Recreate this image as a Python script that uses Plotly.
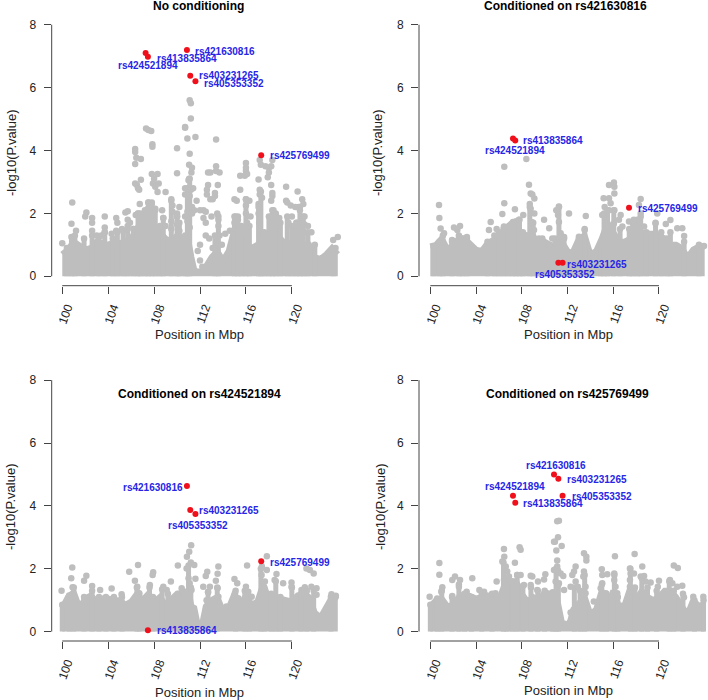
import plotly.graph_objects as go

BASE_POS = [100, 100.5, 101, 101.5, 102, 102.5, 103, 103.5, 104, 104.5, 105, 105.5, 106, 106.5, 107, 107.5,
            108, 108.5, 109, 109.5, 110, 110.5, 111, 111.25, 111.5, 111.75, 112, 112.25, 112.5, 113, 113.5,
            114, 114.5, 115, 115.5, 116, 116.5, 117, 117.5, 118, 118.5, 119, 119.5, 120, 120.5, 121, 121.5,
            122, 122.5, 123, 123.5, 124]

BASE_1 = [.7, .85, 1.1, .95, .85, .9, 1.1, 1.05, 1.0, 1.1, 1.05, 1.1, 1.2, 1.5, 1.9, 2.2,
          1.6, 1.4, 1.2, 1.1, 1.3, 1.2, 1.1, .6, .2, .15, .15, .15, .3, .6, .8,
          .5, .8, 1.5, 1.5, 1.0, .9, 1.0, 1.0, 1.3, 1.4, 1.2, 1.0, 1.1, .9, 1.0, 1.0,
          .6, .55, .7, .9, .7]
BASE_2 = [.95, 1.0, 1.2, .85, 1.0, 1.2, 1.2, 1.0, .85, .8, 1.05, 1.15, 1.25, 1.5, 1.65, 1.6,
          1.35, 1.3, 1.3, .9, 1.1, 1.0, .95, .9, 1.1, .9, .8, .75, .8, 1.2, 1.3,
          .7, .8, 1.2, 1.7, 1.4, 1.1, 1.1, 1.2, 1.4, 1.4, 1.35, 1.35, 1.3, 1.2, 1.0, 1.0,
          .9, .6, .85, .95, .95]
BASE_3 = [.75, 1.1, 1.25, .75, 1.05, 1.15, .95, 1.05, 1.05, 1.0, 1.0, .85, .95, 1.2, 1.0, 1.2,
          .95, 1.1, .85, 1.05, 1.2, 1.2, 1.3, .8, .75, .3, .15, .35, .8, 1.0, 1.1,
          .65, .75, 1.2, .85, 1.15, .85, .95, 1.5, 1.05, 1.1, 1.05, 1.0, .95, 1.15, 1.2, 1.1,
          .6, .45, .8, 1.1, 1.0]
BASE_4 = [.8, 1.0, 1.05, .8, .85, 1.1, 1.2, 1.1, 1.05, 1.1, 1.15, 1.1, 1.0, 1.5, 1.55, 1.6,
          1.2, .95, 1.1, 1.0, 1.25, 1.2, 1.2, .7, .3, .25, .2, .35, .7, .9, 1.1,
          .55, .7, 1.3, .8, 1.3, .8, .85, 1.4, 1.0, 1.3, 1.1, 1.0, 1.1, 1.3, 1.3, 1.1,
          .8, .55, 1.0, .8, .9]

STREAK_X_1 = [100.4, 100.8, 101.1, 101.9, 102.6, 103.2, 103.7, 104.4, 104.8, 105.3, 105.7, 106.2, 106.6, 106.8, 107.2, 107.5, 107.8, 108.1, 108.5, 108.8, 109.5, 110.0, 110.2, 110.7, 110.9, 111.1,
              113.3, 113.6, 115, 115.3, 115.6, 116, 116.3, 117.1, 117.3, 117.6, 118.0, 118.3, 118.6, 119, 119.6, 120, 120.4, 120.7, 121, 121.4, 122, 123.6]
STREAK_Y_1 = [.9, 1.25, 1.3, 1.2, 1.3, 1.25, 1.4, 1.2, 1.4, 1.45, 1.6, 1.5, 2.0, 1.7, 2.1, 2.35, 2.35, 2.1, 1.6, 1.85, 2.4, 1.9, 1.7, 1.3, 2.8, 3.1,
              1.3, 1.9, 1.9, 1.9, 1.6, 2.45, 1.6, 2.3, 2.7, 1.4, 1.9, 2.1, 1.9, 1.7, 1.9, 1.6, 1.7, 2.2, 1.9, 1.4, 1.0, .85]
STREAK_X_2 = [100.3, 100.8, 101.1, 101.9, 102.5, 102.8, 103.2, 105, 105.6, 106.0, 106.4, 106.8, 107.2, 107.5, 107.8, 108.1, 108.7, 109, 109.5, 110.4, 110.9, 111.25, 111.7,
              113, 113.5, 114.9, 115.2, 115.5, 116.05, 116.6, 117.4, 117.7, 118.1, 118.4, 118.9, 119.7, 120.2, 120.7, 121.0, 122.2, 123.5]
STREAK_Y_2 = [.95, 1.1, 1.3, 1.1, 1.3, 1.2, 1.2, 1.1, 1.3, 1.4, 1.5, 1.55, 1.7, 1.75, 1.8, 1.4, 2.2, 1.7, 1.2, 1.0, 1.2, 2.2, 1.2,
              1.2, 1.5, 1.0, 2.0, 2.1, 2.1, 1.5, 1.5, 1.7, 1.8, 1.9, 1.4, 1.7, 1.4, 1.2, 1.4, 1.1, .95]
STREAK_X_3 = [100, 100.6, 101, 101.9, 102.6, 103.2, 103.8, 104.5, 105.2, 106.5, 106.7, 107.6, 107.9, 108.7, 109.2, 110.1, 110.5, 111, 111.2,
              112.7, 113.5, 115.1, 115.9, 116.3, 117.3, 117.6, 118.2, 118.6, 119, 120, 120.8, 121.3, 121.9, 123.4]
STREAK_Y_3 = [.85, 1.15, 1.4, 1.1, 1.3, 1.1, 1.1, 1.1, 1.1, 1.4, 1.2, 1.4, 1.1, 1.35, 1.2, 1.2, 1.3, 2.1, 1.4,
              1.25, 1.4, 1.3, 1.3, 1.1, 2.0, 1.4, 1.2, 1.6, 1.1, 1.4, 1.2, 1.3, 1.3, 1.1]
STREAK_X_4 = [100, 100.6, 101, 101.9, 102.5, 103, 103.6, 104.5, 105.4, 106.4, 106.7, 107.2, 107.6, 108.1, 108.8, 109.4, 110, 110.7, 111, 111.2,
              112.6, 113.1, 113.5, 115, 115.4, 116.1, 116.4, 117.5, 117.9, 118.5, 119, 119.8, 120.9, 121.3, 122.1, 123.1, 123.9]
STREAK_Y_4 = [.85, 1.05, 1.3, 1.1, 1.5, 1.2, 1.1, 1.2, 1.2, 2.2, 1.7, 1.6, 1.8, 1.45, 1.4, 1.3, 1.3, 1.25, 2.0, 1.5,
              1.4, 1.3, 1.8, 1.5, 1.2, 1.8, 1.1, 2.0, 1.4, 1.7, 1.4, 1.3, 1.6, 1.3, 1.2, 1.0, 1.0]

PEAK_X_1 = [100, 100.87, 100.8, 101.2, 102, 102.1, 102.6, 102.6, 102.6, 103, 103.4, 103.7, 103.7, 103.7, 104.3, 104.7, 104.8, 104.7, 105.2, 105.5, 105.7, 105.7, 105.9, 106.2,
            106.35, 106.35, 106.35, 106.45, 106.85, 106.35, 106.5, 106.6, 106.7, 106.85, 106.75, 106.4, 106.6, 106.8, 107.3, 107.5, 107.75, 107.85, 107.85,
            107.8, 108.3, 108, 107.9, 108.1, 108.4, 108.3, 109, 107.5, 107.8, 108.1, 108.7, 108.8, 109.0, 109.5, 109.6, 109.6, 109.5, 109.5, 110, 110.2, 110, 110, 110.2, 110, 110,
            110.7, 110.7, 110.9, 111.1, 111.2, 111.2, 111.6, 111.1, 111.05, 111.3, 111.25, 111.05, 111.0, 110.7, 110.7, 111.2, 111.4, 111.1, 111, 111.3, 111.7, 110.9, 111.3, 110.7, 110.9, 111.1,
            111.5, 112, 112.3, 112.3, 112.5, 112.5, 111.8, 112, 112.0, 112.2, 112.7, 112.9, 112.7, 112.6, 112.6, 112.5, 112.9, 113.1, 113, 113.3, 113.3,
            113.4, 113.4, 113.4, 113.7, 113.55, 113.5, 113.6, 113.6, 113.7, 113.9, 112.8, 113.1, 114.2, 114.6, 115, 115.2, 115.5, 115.5, 115.1, 115.3, 115,
            116, 116, 116, 115.9, 116.1, 116, 116, 116.3, 116, 116.4, 116.1, 116, 117.1, 117.2, 117.3, 117.2, 117.2, 117.4, 117.1, 117.1, 117.15,
            117.7, 118, 118, 117.9, 118.3, 118.2, 118.2, 118.3, 118.3, 118.2, 118.4, 118.6, 118.9, 118.2, 118.5, 119.5, 119.5, 119.6, 119.9, 120, 119.7,
            120.5, 120.3, 120.6, 120.7, 120.9, 121, 120.4, 120.7, 121.1, 121.1, 121.4, 121.7, 121.1, 123.6, 124, 123.8]
PEAK_Y_1 = [1.05, 2.35, 1.67, 1.45, 1.9, 2.03, 1.85, 1.7, 1.45, 1.3, 1.3, 1.9, 1.55, 1.4, 1.35, 1.85, 1.7, 1.45, 1.5, 2.03, 2.07, 1.8, 1.7, 1.5,
            4.05, 3.95, 3.57, 3.77, 3.73, 2.95, 2.9, 2.8, 2.75, 3.07, 2.3, 1.95, 2.0, 2.0, 4.7, 4.65, 4.62, 4.2, 4.12,
            3.25, 3.25, 3.1, 2.95, 2.85, 2.95, 2.68, 2.68, 2.35, 2.3, 2.15, 2.1, 1.85, 1.6, 2.45, 2.25, 2.05, 1.75, 1.5, 2.0, 2.2, 1.9, 1.65, 1.45, 4.07, 3.28,
            4.75, 4.72, 4.38, 5.6, 5.5, 5.02, 4.43, 3.9, 3.55, 3.45, 3.3, 3.1, 3.05, 2.8, 2.6, 2.75, 2.8, 2.55, 2.35, 2.2, 2.4, 2.05, 2.0, 1.9, 1.75, 1.55,
            2.1, 2.1, 2.1, 1.85, 1.7, 1.3, .8, 1.0, .5, .3, 3.3, 3.3, 2.9, 2.75, 2.6, 2.05, 2.45, 2.45, 1.9, 2.65, 2.55,
            4.35, 3.5, 3.35, 3.3, 2.9, 2.0, 1.8, 1.6, 1.3, 1.0, 1.2, .9, 1.35, 1.45, 2.45, 2.4, 2.75, 3.2, 1.9, 1.8, 1.7,
            3.6, 3.45, 3.35, 3.2, 3.25, 2.45, 2.25, 2.4, 2.0, 1.9, 1.7, 1.4, 3.08, 3.7, 3.55, 2.75, 2.6, 2.5, 2.2, 2.0, 1.7,
            3.5, 3.45, 3.3, 3.15, 3.7, 3.5, 2.9, 2.55, 2.65, 2.4, 2.1, 2.0, 1.85, 1.9, 1.7, 2.85, 2.4, 2.35, 2.25, 1.9, 1.7,
            2.7, 2.2, 2.2, 2.1, 2.45, 2.3, 1.7, 1.5, 1.9, 1.65, 1.6, 1.4, 1.4, 1.15, 1.25, .9]

PEAK_X_2 = [100.76, 100.79, 100.9, 101.2, 101.9, 102.07, 102.6, 102.36, 102.7, 103.2, 105.28, 105.13, 105.8, 106.3, 106.47, 106.47, 106.44, 106.9, 107.4, 107.23, 107.75, 108.13, 108.4, 108.63, 108.78, 108.92, 109.1, 108.7, 108.78, 109.1, 108.86, 109.07, 109.95, 110.4, 109.8, 110.67,
            111.02, 111.25, 111.17, 111.25, 112.13, 111.4, 111.7, 113.6, 113.5, 113.0, 113.44, 115.16, 115.63, 115.63, 116.06, 116.1, 116.1, 115.77, 115.25, 115.04, 116.1, 115.63, 115.3, 116.65, 116.5, 116.8, 116.06,
            118.4, 118.25, 118.4, 117.38, 117.8, 118.7, 119.85, 119.7, 121, 120.6, 121.6, 122.04, 122.2, 123.5, 123.94]
PEAK_Y_2 = [2.27, 1.85, 1.52, 1.37, 1.15, 1.55, 1.6, 1.47, 1.2, 1.25, 1.73, 1.47, 1.5, 1.98, 2.32, 3.48, 1.58, 1.58, 2.13, 1.73, 1.8, 1.95, 3.73, 2.91, 2.63, 2.6, 2.47, 2.3, 2.15, 2.0, 1.73, 1.47, 1.8, 1.53, 1.2, 1.2,
            2.1, 2.22, 1.95, 1.73, 2.0, 1.37, 1.25, 1.92, 1.47, 1.26, 1.15, 2.48, 2.48, 2.9, 2.98, 2.85, 2.63, 2.32, 2.2, 1.95, 2.1, 2.1, 1.68, 1.95, 1.8, 1.58, 1.68,
            2.46, 2.27, 2.0, 1.74, 1.8, 1.58, 2.0, 1.68, 1.79, 1.66, 1.53, 1.53, 1.28, 1.0, .96]

PEAK_X_3 = [99.94, 100.87, 100.78, 100.9, 101.9, 102.1, 102.6, 103.3, 104.3, 105.17, 105.83, 106.6, 106.33, 106.53, 106.7, 107.92, 107.87, 107.63, 108.8, 109.46, 109.1, 110.07, 110.4,
            111.23, 111.06, 110.86, 111.2, 111.5, 110.83, 111, 111.1, 111.6, 111.26, 112.63, 112.5, 112.28, 112.86, 112.7, 113.6, 113.53, 113.38, 113.53, 113.6, 112.57, 114.3,
            115, 115.24, 115.04, 115.33, 116.1, 116, 116.2, 116.5, 117.39, 117.36, 117.65, 117.82, 117.82, 118.66, 118.5, 119.24, 119.97, 119.97, 120.84, 121.27, 121.57, 121.9, 121.13, 121.7, 122.15, 122.15, 123.45, 123.83]
PEAK_Y_3 = [1.3, 2.04, 1.7, 1.41, 1.62, 1.78, 1.45, 1.32, 1.37, 1.19, 1.9, 2.12, 1.62, 1.43, 1.22, 1.89, 1.8, 1.48, 1.43, 1.59, 1.32, 2.1, 1.38,
            2.75, 2.54, 2.38, 2.2, 2.12, 2.01, 1.7, 1.54, 1.68, 1.32, 1.9, 1.77, 1.43, 1.43, 1.27, 2.07, 1.84, 1.62, 1.38, 1.11, 1.0, .8,
            1.67, 1.54, 1.22, 1.06, 2.1, 1.43, 1.27, 1.11, 2.07, 1.8, 1.59, 2.4, 1.96, 1.83, 1.64, 1.54, 1.56, 1.43, 1.32, 2.01, 1.96, 1.85, 1.41, 1.43, 1.38, 1.17, 1.19, 1.14]

PEAK_X_4 = [99.94, 100.79, 100.79, 101.05, 100.96, 101.92, 101.92, 102.16, 102.6, 102.5, 103.18, 103.67, 104.29, 104.7, 105.7, 105.8,
            106.44, 106.47, 106.3, 106.6, 106.73, 106.88, 106.44, 107.4, 107.81, 107.9, 107.6, 107.9, 108.19, 108.78, 108.92, 108.78, 109.42, 109.36, 109.95, 110.06,
            111.1, 111.25, 111.17, 110.9, 110.82, 111.02, 111.49, 111.1, 111.1, 110.82, 111.17, 111.4, 111.63, 110.96, 111.25, 111.7,
            112.27, 112.71, 112.57, 112.42, 112.71, 112.9, 113.44, 113.65, 113.65, 113.44, 113.38, 113.58, 113.58, 112.27, 114.3,
            115, 115.04, 115.48, 115.04, 114.9, 115.34, 116.15, 116.09, 116.09, 116.2, 116.35,
            117.46, 117.52, 117.87, 117.81, 117.46, 117.46, 117.52, 118.54, 118.4, 118.7, 118.83, 119.27, 120, 119.9, 121.3, 121.65, 120.96, 121.17, 122.04, 121.6, 122.19, 123, 123.88]
PEAK_Y_4 = [1.11, 2.18, 1.81, 1.41, 1.27, 1.13, 1.64, 1.75, 1.64, 1.43, 1.27, 1.7, 1.32, 1.27, 1.22, 1.59,
            2.63, 2.38, 2.23, 2.07, 1.91, 1.75, 1.64, 2.19, 2.68, 2.6, 1.8, 1.8, 1.48, 1.78, 1.75, 1.48, 1.59, 1.32, 1.66, 1.82,
            3.51, 3.53, 3.0, 2.86, 2.86, 2.58, 2.72, 2.26, 2.07, 1.96, 1.94, 1.85, 1.77, 1.59, 1.54, 1.32,
            1.43, 2.07, 1.91, 1.8, 1.59, 1.43, 2.49, 2.38, 2.26, 1.91, 1.75, 1.43, 1.22, .61, .96,
            1.98, 1.8, 1.82, 1.54, 1.38, 1.22, 2.4, 1.85, 1.64, 1.43, 1.22,
            2.01, 1.85, 2.47, 1.85, 1.64, 1.43, 1.27, 2.07, 1.75, 1.77, 1.59, 1.56, 1.62, 1.43, 2.1, 2.02, 1.64, 1.54, 1.46, 1.43, 1.09, 1.11, 1.11]

SNP_X_1 = [110.86, 107.26, 107.46, 111.15, 111.6, 117.33]
SNP_Y_1 = [7.2, 7.1, 6.98, 6.38, 6.2, 3.85]
SNP_X_2 = [107.23, 107.43, 111.2, 111.57, 117.38]
SNP_Y_2 = [4.38, 4.32, .43, .43, 2.18]
SNP_X_3 = [110.86, 111.15, 111.6, 117.33, 107.46]
SNP_Y_3 = [4.63, 3.87, 3.74, 2.24, .04]
SNP_X_4 = [110.82, 111.2, 111.57, 107.23, 107.43]
SNP_Y_4 = [5.0, 4.86, 4.32, 4.32, 4.1]

LABEL_TEXT_1 = ["rs421630816", "rs413835864", "rs424521894", "rs403231265", "rs405353352", "rs425769499"]
LABEL_X_1 = [111.5, 108.13, 104.79, 111.81, 112.28, 118.0]
LABEL_Y_1 = [7.16, 6.93, 6.70, 6.38, 6.14, 3.83]
LABEL_TEXT_2 = ["rs413835864", "rs424521894", "rs403231265", "rs405353352", "rs425769499"]
LABEL_X_2 = [108.05, 104.72, 111.87, 109.07, 118.08]
LABEL_Y_2 = [4.31, 4.0, .39, .05, 2.14]
LABEL_TEXT_3 = ["rs421630816", "rs403231265", "rs405353352", "rs425769499", "rs413835864"]
LABEL_X_3 = [105.17, 111.81, 109.11, 118.0, 108.13]
LABEL_Y_3 = [4.6, 3.84, 3.36, 2.2, .03]
LABEL_TEXT_4 = ["rs421630816", "rs403231265", "rs424521894", "rs405353352", "rs413835864"]
LABEL_X_4 = [108.31, 111.87, 104.72, 112.27, 108.05]
LABEL_Y_4 = [5.3, 4.85, 4.62, 4.29, 4.06]

TITLES = ["No conditioning", "Conditioned on rs421630816", "Conditioned on rs424521894", "Conditioned on rs425769499"]
X_TICKS = [100, 104, 108, 112, 116, 120]
Y_TICKS = [0, 2, 4, 6, 8]
X_LABEL = "Position in Mbp"
Y_LABEL = "-log10(P.value)"

W, H = 708, 700
GREY, RED, BLUE, INK = "#bebebe", "#f0101c", "#2626e6", "#222222"
FONT = "Liberation Sans"

# left, right, top, bottom, x range, title xy, x-label xy, y-label xy
PANELS = [
    (51.7, 348, 21.6, 285.7, [99.08, 124.89], (198, 5.5), (199, 334), (11, 153), BASE_1, STREAK_X_1, STREAK_Y_1, PEAK_X_1, PEAK_Y_1, SNP_X_1, SNP_Y_1, LABEL_TEXT_1, LABEL_X_1, LABEL_Y_1),
    (419, 708, 21.6, 285.7, [99.01, 124.29], (565, 5.5), (568, 334), (377, 153), BASE_2, STREAK_X_2, STREAK_Y_2, PEAK_X_2, PEAK_Y_2, SNP_X_2, SNP_Y_2, LABEL_TEXT_2, LABEL_X_2, LABEL_Y_2),
    (51.7, 348, 377, 641, [99.08, 124.89], (199, 394), (199, 692), (10, 507), BASE_3, STREAK_X_3, STREAK_Y_3, PEAK_X_3, PEAK_Y_3, SNP_X_3, SNP_Y_3, LABEL_TEXT_3, LABEL_X_3, LABEL_Y_3),
    (419, 708, 377, 641, [99.01, 124.29], (567, 394), (568, 690), (380, 507), BASE_4, STREAK_X_4, STREAK_Y_4, PEAK_X_4, PEAK_Y_4, SNP_X_4, SNP_Y_4, LABEL_TEXT_4, LABEL_X_4, LABEL_Y_4),
]

fig = go.Figure()
annotations, shapes, axes = [], [], {}
for i, (l, r, t, b, xr, tpos, xpos, ypos, base, kx, ky, px, py, sx, sy, lt, lx, ly) in enumerate(PANELS, start=1):
    suffix = "" if i == 1 else str(i)
    xa, ya = f"x{suffix}", f"y{suffix}"
    fig.add_trace(go.Scatter(x=BASE_POS, y=base, mode="lines", fill="tozeroy", fillcolor=GREY,
                             line=dict(color=GREY, width=6), xaxis=xa, yaxis=ya, showlegend=False, hoverinfo="skip"))
    fig.add_trace(go.Scatter(x=kx, y=ky, mode="markers", marker=dict(color=GREY, size=6.5),
                             error_y=dict(type="data", symmetric=False, array=[0] * len(ky), arrayminus=ky, thickness=5, width=0, color=GREY),
                             xaxis=xa, yaxis=ya, showlegend=False, hoverinfo="skip"))
    fig.add_trace(go.Scatter(x=px, y=py, mode="markers", marker=dict(color=GREY, size=6.5), xaxis=xa, yaxis=ya, showlegend=False))
    fig.add_trace(go.Scatter(x=sx, y=sy, mode="markers", marker=dict(color=RED, size=6), xaxis=xa, yaxis=ya, showlegend=False))
    axes[f"xaxis{suffix}"] = dict(domain=[l / W, r / W], range=xr, anchor=ya, tickmode="array", tickvals=X_TICKS,
                                  tickangle=-70, ticks="outside", ticklen=7, tickcolor="#444", showgrid=False, zeroline=False,
                                  showline=False, ticklabelstandoff=2, ticklabelshift=5,
                                  tickfont=dict(family=FONT, size=12, color=INK))
    axes[f"yaxis{suffix}"] = dict(domain=[1 - b / H, 1 - t / H], range=[-0.3, 8.1], anchor=xa, tickmode="array", tickvals=Y_TICKS,
                                  ticks="outside", ticklen=7, tickcolor="#444", showgrid=False, zeroline=False,
                                  showline=False, ticklabelstandoff=5, tickfont=dict(family=FONT, size=12, color=INK))
    shapes.append(dict(type="line", xref=xa, yref=f"{ya} domain", x0=X_TICKS[0], x1=X_TICKS[-1], y0=0, y1=0, line=dict(color="#444", width=1)))
    shapes.append(dict(type="line", xref=f"{xa} domain", yref=ya, x0=0, x1=0, y0=Y_TICKS[0], y1=Y_TICKS[-1], line=dict(color="#444", width=1)))

    def dom(pos):
        return (pos[0] - l) / (r - l), (b - pos[1]) / (b - t)

    fx, fy = dom(tpos)
    annotations.append(dict(text=f"<b>{TITLES[i-1]}</b>", xref=f"{xa} domain", yref=f"{ya} domain", x=fx, y=fy, xanchor="center", yanchor="middle",
                            showarrow=False, font=dict(family=FONT, size=12, color="#000")))
    fx, fy = dom(xpos)
    annotations.append(dict(text=X_LABEL, xref=f"{xa} domain", yref=f"{ya} domain", x=fx, y=fy, xanchor="center", yanchor="middle",
                            showarrow=False, font=dict(family=FONT, size=13, color=INK)))
    fx, fy = dom(ypos)
    annotations.append(dict(text=Y_LABEL, xref=f"{xa} domain", yref=f"{ya} domain", x=fx, y=fy, xanchor="center", yanchor="middle", textangle=-90,
                            showarrow=False, font=dict(family=FONT, size=13, color=INK)))
    for text, x, y in zip(lt, lx, ly):
        annotations.append(dict(text=f"<b>{text}</b>", xref=xa, yref=ya, x=x, y=y, xanchor="left", yanchor="middle", showarrow=False,
                                xshift=-1, font=dict(family=FONT, size=10, color=BLUE)))

fig.update_layout(width=W, height=H, margin=dict(l=0, r=0, t=0, b=0, autoexpand=False), paper_bgcolor="white", plot_bgcolor="white",
                  annotations=annotations, shapes=shapes, **axes)
fig.write_html("out.html", config={"displayModeBar": False}, post_script="document.body.style.margin='0';")
